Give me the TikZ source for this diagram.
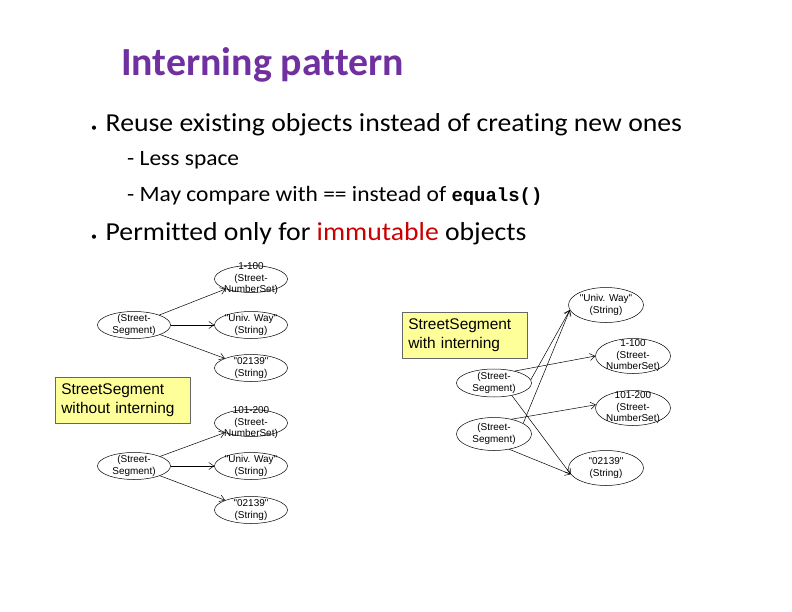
\documentclass[tikz,border=0pt]{standalone}
\usepackage{fontspec}
\setmainfont{Carlito}[Ligatures=NoCommon]
\newfontfamily\bodyf{Carlito}[Ligatures=NoCommon,FakeStretch=1.07]
\newfontfamily\arialf{Liberation Sans}
\newfontfamily\monof{Liberation Mono}
\usetikzlibrary{shapes.geometric,arrows.meta}
\definecolor{titlepurple}{RGB}{112,48,160}
\definecolor{immred}{RGB}{204,0,0}
\definecolor{notey}{RGB}{255,255,153}
\begin{document}
\begin{tikzpicture}[x=1bp,y=-1bp,
  txt/.style={anchor=base west,inner sep=0pt,font=\bodyf\fontsize{26}{30}\selectfont},
  subtxt/.style={anchor=base west,inner sep=0pt,font=\bodyf\fontsize{22}{26}\selectfont},
  bul/.style={anchor=base,inner sep=0pt,font=\fontsize{12}{14}\selectfont},
  objtext/.style={inner sep=0pt,align=center,font=\arialf\fontsize{10}{11.5}\selectfont},
  objL/.style={ellipse,draw,line width=0.5bp,minimum width=73bp,minimum height=27bp,inner sep=0pt},
  objR/.style={ellipse,draw,line width=0.5bp,minimum width=75bp,minimum height=35bp,inner sep=0pt},
  note/.style={draw=black!60,line width=0.5bp,fill=notey,anchor=north west,inner sep=0pt,
    text width=#1,align=left,font=\arialf\fontsize{15.5}{19.5}\selectfont},
  conn/.style={line width=0.5bp,-{Straight Barb[length=5bp,width=7bp]}}
]
\useasboundingbox (0,0) rectangle (792,612);
\fill[white] (0,0) rectangle (792,612);

% title and bullets
\node[anchor=base west,inner sep=0pt,font=\bfseries\fontsize{40}{44}\selectfont,text=titlepurple] (title) at (121,76) {Interning pattern};
\node[bul] (d1) at (94,132) {•};
\node[txt] (b1) at (105.5,132) {Reuse existing objects instead of creating new ones};
\node[subtxt] (s1) at (127,166) {- Less space};
\node[subtxt] (s2) at (127,202) {- May compare with == instead of {\monof\bfseries\fontsize{19}{22}\selectfont equals()}};
\node[bul] (d2) at (94,240) {•};
\node[txt] (b2) at (105.5,240) {Permitted only for \textcolor{immred}{immutable} objects};

% left diagram: without interning
\node[objL,label={[objtext]center:{(Street-\\Segment)}}] (ss1) at (134,325) {};
\node[objL,label={[objtext]center:{1-100\\(Street-\\NumberSet)}}] (n1) at (251,279) {};
\node[objL,label={[objtext]center:{"Univ. Way"\\(String)}}] (u1) at (251,325) {};
\node[objL,label={[objtext]center:{"02139"\\(String)}}] (z1) at (251,368) {};
\node[objL,label={[objtext]center:{(Street-\\Segment)}}] (ss2) at (134,466) {};
\node[objL,label={[objtext]center:{101-200\\(Street-\\NumberSet)}}] (n2) at (251,423) {};
\node[objL,label={[objtext]center:{"Univ. Way"\\(String)}}] (u2) at (251,466) {};
\node[objL,label={[objtext]center:{"02139"\\(String)}}] (z2) at (251,510) {};
\draw[conn] (ss1) -- (n1);
\draw[conn] (ss1) -- (u1);
\draw[conn] (ss1) -- (z1);
\draw[conn] (ss2) -- (n2);
\draw[conn] (ss2) -- (u2);
\draw[conn] (ss2) -- (z2);
\node[note=135bp,minimum height=46bp] (noteL) at (55,377) {\hspace*{6bp}StreetSegment\\\hspace*{6bp}without interning};

% right diagram: with interning
\node[objR,label={[objtext]center:{"Univ. Way"\\(String)}}] (ru) at (606,305) {};
\node[objR,label={[objtext]center:{1-100\\(Street-\\NumberSet)}}] (rn1) at (633,356) {};
\node[objR,label={[objtext]center:{101-200\\(Street-\\NumberSet)}}] (rn2) at (633,408) {};
\node[objR,label={[objtext]center:{"02139"\\(String)}}] (rz) at (606,468) {};
\node[objR,minimum height=28bp,label={[objtext]center:{(Street-\\Segment)}}] (rs1) at (494,383) {};
\node[objR,minimum height=33bp,label={[objtext]center:{(Street-\\Segment)}}] (rs2) at (494,434) {};
\draw[conn] (rs1.30) -- (rn1.180);
\draw[conn] (rs1.5) -- (ru.188);
\draw[conn] (rs1.-35) -- (rz.190);
\draw[conn] (rs2.40) -- (rn2.175);
\draw[conn] (rs2.20) -- (ru.188);
\draw[conn] (rs2.-45) -- (rz.190);
\node[note=125bp,minimum height=46bp] (noteR) at (402,312) {\hspace*{6bp}StreetSegment\\\hspace*{6bp}with interning};
\end{tikzpicture}
\end{document}
